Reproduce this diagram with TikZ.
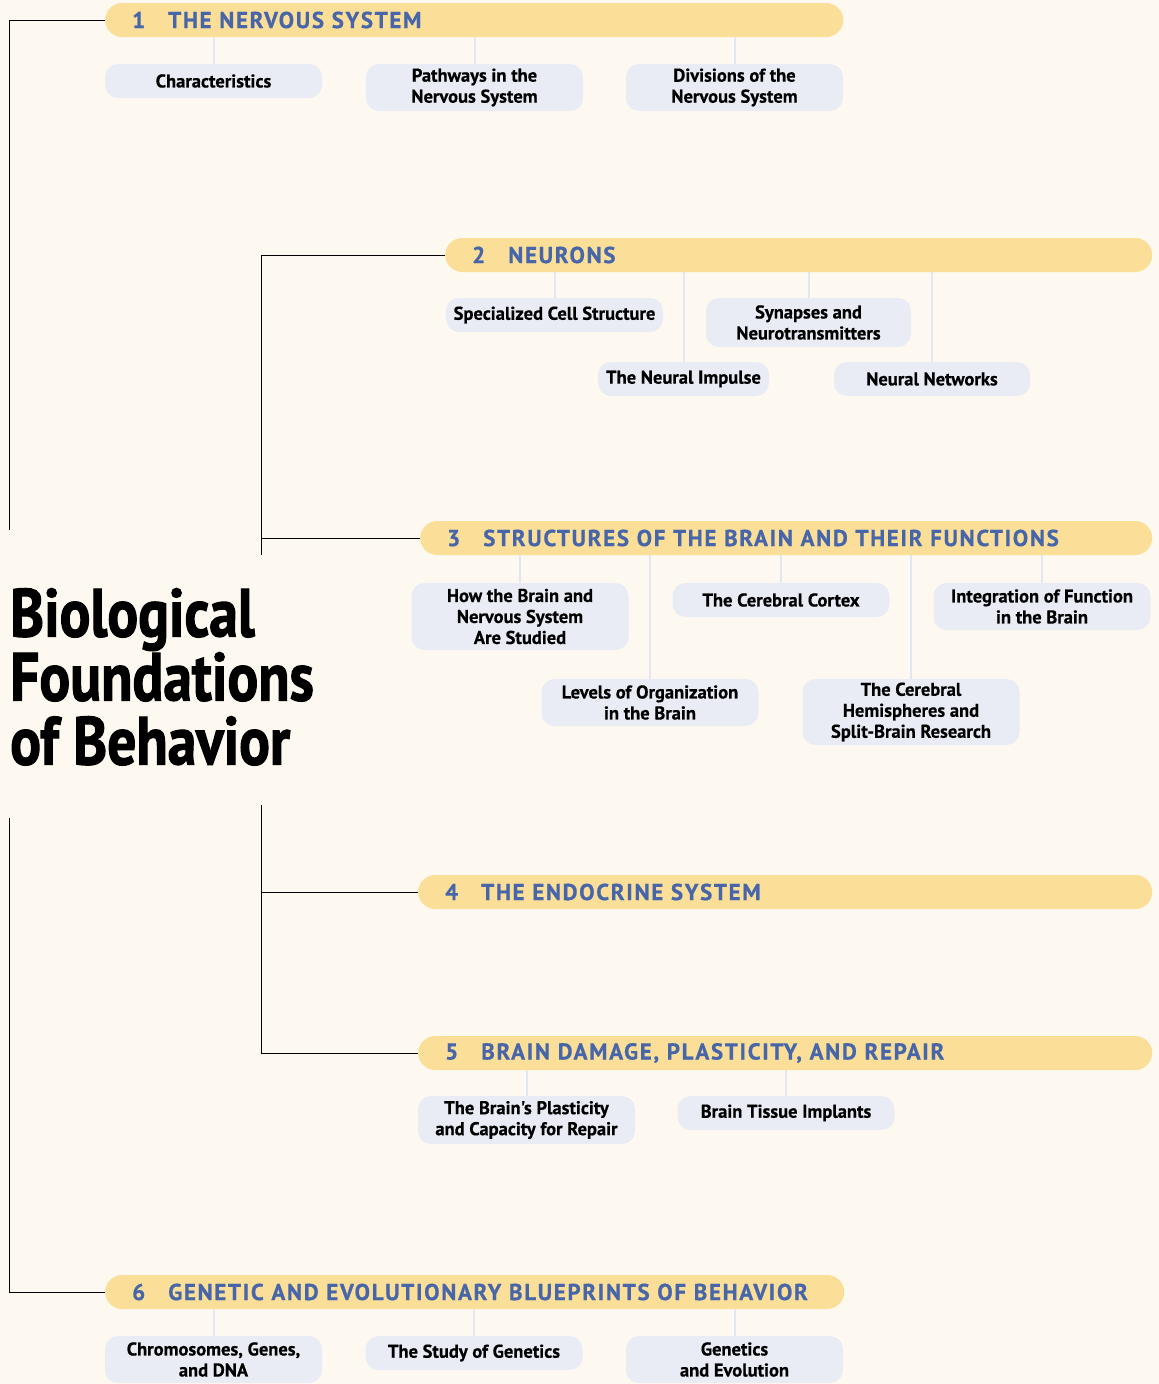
\documentclass[tikz,border=0pt]{standalone}
\usepackage{fontspec}
\setmainfont{PT Sans}
\newfontfamily\headfont[LetterSpace=7.2,FakeBold=0.6]{PT Sans}
\newfontfamily\topicfont[FakeBold=0.5]{PT Sans}
\newfontfamily\titlefont[FakeStretch=0.845,FakeBold=1.6]{PT Sans}
\usepackage{tikz}
\usetikzlibrary{arrows,positioning,calc}
\definecolor{paper}{HTML}{FEF9F0}
\definecolor{barfill}{HTML}{FBDE98}
\definecolor{headblue}{HTML}{4766A9}
\definecolor{topicfill}{HTML}{E9ECF5}
\definecolor{stemcol}{HTML}{E3E7F0}
\tikzstyle{headbar}=[fill=barfill,rounded corners=17pt,minimum height=34pt,inner xsep=27pt,inner ysep=0pt,anchor=west,align=left,text=headblue,font=\headfont\bfseries\fontsize{23}{25}\selectfont]
\tikzstyle{topic}=[fill=topicfill,rounded corners=13pt,minimum width=217pt,minimum height=34pt,inner sep=0pt,align=center,font=\topicfont\bfseries\fontsize{18.5}{21}\selectfont]
\tikzstyle{stem}=[stemcol,line width=2pt]
\tikzstyle{tree}=[black,line width=1pt]

\begin{document}
\begin{tikzpicture}[x=1pt,y=-1pt]
\fill[paper] (0,0) rectangle (1159,1384);
\useasboundingbox (0,0) rectangle (1159,1384);

% headings
\node[headbar,text width=684pt] (h1) at (105,20) {1\quad THE NERVOUS SYSTEM};
\node[headbar,text width=653pt] (h2) at (445,255) {2\quad NEURONS};
\node[headbar,text width=678pt] (h3) at (420,538) {3\quad STRUCTURES OF THE BRAIN AND THEIR FUNCTIONS};
\node[headbar,text width=680pt] (h4) at (418,892) {4\quad THE ENDOCRINE SYSTEM};
\node[headbar,text width=680pt] (h5) at (418,1053) {5\quad BRAIN DAMAGE, PLASTICITY, AND REPAIR};
\node[headbar,text width=685pt] (h6) at (105,1292) {6\quad GENETIC AND EVOLUTIONARY BLUEPRINTS OF BEHAVIOR};

% title
\node[anchor=north west,align=left,inner sep=0pt,font=\titlefont\bfseries\fontsize{68}{64}\selectfont] (title) at (10,588) {Biological\\Foundations\\of Behavior};

% section 1
\node[topic] (char) at (213.5,81) {Characteristics};
\node[topic,minimum height=47pt] (path) at (474.5,87.5) {Pathways in the\\Nervous System};
\node[topic,minimum height=47pt] (divi) at (734.5,87.5) {Divisions of the\\Nervous System};

% section 2
\node[topic] (cell) at (554.5,315) {Specialized Cell Structure};
\node[topic,minimum width=171pt] (impulse) at (683.5,379) {The Neural Impulse};
\node[topic,minimum width=205pt,minimum height=49pt] (synapse) at (808.5,322.5) {Synapses and\\Neurotransmitters};
\node[topic,minimum width=196pt] (network) at (932,379) {Neural Networks};

% section 3
\node[topic,minimum height=67pt] (study) at (520,616.5) {How the Brain and\\Nervous System\\Are Studied};
\node[topic,minimum height=47pt] (levels) at (650,702.5) {Levels of Organization\\in the Brain};
\node[topic] (cortex) at (781,600) {The Cerebral Cortex};
\node[topic,minimum height=66pt] (hemi) at (911,712) {The Cerebral\\Hemispheres and\\Split-Brain Research};
\node[topic,minimum height=47pt] (integ) at (1042,606.5) {Integration of Function\\in the Brain};

% section 5
\node[topic,minimum height=48pt] (plastic) at (526.5,1120) {The Brain's Plasticity\\and Capacity for Repair};
\node[topic] (implant) at (786,1113) {Brain Tissue Implants};

% section 6
\node[topic,minimum height=47pt] (chromo) at (213.5,1359.5) {Chromosomes, Genes,\\and DNA};
\node[topic] (genstudy) at (474,1353) {The Study of Genetics};
\node[topic,minimum height=47pt] (evol) at (734.5,1359.5) {Genetics\\and Evolution};

% stems
\draw[stem] (h1.south -| char.north) -- (char.north);
\draw[stem] (h1.south -| path.north) -- (path.north);
\draw[stem] (h1.south -| divi.north) -- (divi.north);
\draw[stem] (h2.south -| cell.north) -- (cell.north);
\draw[stem] (h2.south -| impulse.north) -- (impulse.north);
\draw[stem] (h2.south -| synapse.north) -- (synapse.north);
\draw[stem] (h2.south -| network.north) -- (network.north);
\draw[stem] (h3.south -| study.north) -- (study.north);
\draw[stem] (h3.south -| levels.north) -- (levels.north);
\draw[stem] (h3.south -| cortex.north) -- (cortex.north);
\draw[stem] (h3.south -| hemi.north) -- (hemi.north);
\draw[stem] (h3.south -| integ.north) -- (integ.north);
\draw[stem] (h5.south -| plastic.north) -- (plastic.north);
\draw[stem] (h5.south -| implant.north) -- (implant.north);
\draw[stem] (h6.south -| chromo.north) -- (chromo.north);
\draw[stem] (h6.south -| genstudy.north) -- (genstudy.north);
\draw[stem] (h6.south -| evol.north) -- (evol.north);

% tree lines
\coordinate (outerA) at (9,530);
\coordinate (outerB) at (9,818);
\coordinate (innerA) at (261,555);
\coordinate (innerB) at (261,805);
\draw[tree] (h1.west) -| (outerA);
\draw[tree] (outerB) |- (h6.west);
\draw[tree] (h2.west) -| (innerA);
\draw[tree] (h3.west) -- (h3.west -| innerA);
\draw[tree] (innerB) |- (h5.west);
\draw[tree] (h4.west -| innerB) -- (h4.west);
\end{tikzpicture}
\end{document}
